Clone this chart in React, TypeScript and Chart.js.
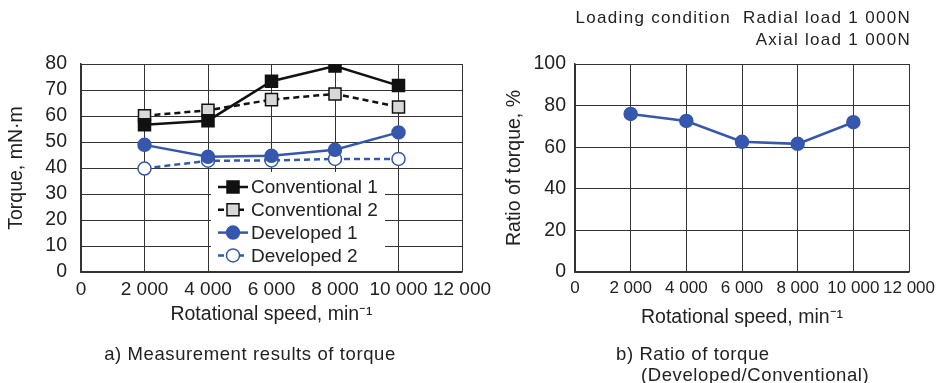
import React, { useEffect, useRef } from 'react';
import { Chart, registerables } from 'chart.js';

Chart.register(...registerables);

// ---- data ----
const speeds = [2000, 4000, 6000, 8000, 10000];
const conventional1 = [56.6, 58.2, 73.4, 79.2, 71.7];
const conventional2 = [60.1, 62.2, 66.3, 68.5, 63.5];
const developed1 = [48.9, 44.3, 44.7, 47.0, 53.7];
const developed2 = [39.8, 42.8, 42.9, 43.5, 43.5];
const torqueRatio = [76.0, 72.6, 62.6, 61.6, 72.0];
const seriesNames = ['Conventional 1', 'Conventional 2', 'Developed 1', 'Developed 2'];
const speedTicks = [0, 2000, 4000, 6000, 8000, 10000, 12000];
const torqueTicks = [0, 10, 20, 30, 40, 50, 60, 70, 80];
const ratioTicks = [0, 20, 40, 60, 80, 100];

const FONT = "'Liberation Sans', Arial, Helvetica, sans-serif";
const TEXT = '#222';
const BLUE = '#3557ae';
const GRID = '#333';

const fmtSpeed = (v: number) =>
  v === 0 ? '0' : `${Math.floor(v / 1000)} ${String(v % 1000).padStart(3, '0')}`;

const pts = (ys: number[]) => speeds.map((x, i) => ({ x, y: ys[i] }));

const insideLegend = {
  id: 'insideLegend',
  afterDatasetsDraw(chart: any, _args: any, opts: any) {
    if (!opts || !opts.display) return;
    const { ctx, chartArea } = chart;
    const left = chartArea.left + opts.offsetX;
    const top = chartArea.top + opts.offsetY;
    const bottom = chartArea.bottom - 1;
    ctx.save();
    ctx.fillStyle = '#fff';
    ctx.fillRect(left, top, opts.width, bottom - top);
    chart.data.datasets.forEach((ds: any, i: number) => {
      const y = top + opts.firstRow + i * opts.rowGap;
      const x0 = left + 7;
      const x1 = x0 + 30;
      const xm = (x0 + x1) / 2;
      ctx.strokeStyle = ds.borderColor;
      ctx.lineWidth = ds.borderWidth;
      ctx.setLineDash(ds.borderDash || []);
      ctx.beginPath();
      ctx.moveTo(x0, y);
      ctx.lineTo(x1, y);
      ctx.stroke();
      ctx.setLineDash([]);
      ctx.fillStyle = ds.pointBackgroundColor;
      ctx.strokeStyle = ds.pointBorderColor;
      ctx.lineWidth = ds.pointBorderWidth;
      ctx.beginPath();
      if (ds.pointStyle === 'rect') {
        const s = Math.SQRT1_2 * ds.pointRadius;
        ctx.rect(xm - s, y - s, 2 * s, 2 * s);
      } else {
        ctx.arc(xm, y, ds.pointRadius, 0, Math.PI * 2);
      }
      ctx.fill();
      ctx.stroke();
      ctx.fillStyle = TEXT;
      ctx.font = `${opts.fontSize}px ${FONT}`;
      ctx.textBaseline = 'middle';
      ctx.textAlign = 'left';
      ctx.fillText(ds.label, x1 + 3, y + 1);
    });
    ctx.restore();
  },
};

function baseScales(p: {
  yMax: number;
  yTicks: number[];
  yTitle: string;
  yWidth: number;
  yTitlePad: number;
  yTickPad: number;
  xTickPad: number;
  xTitlePad: number;
  xTickSize: number;
}) {
  const yTickFont = { family: FONT, size: 19.5 };
  return {
    x: {
      type: 'linear',
      min: 0,
      max: 12000,
      offset: false,
      afterBuildTicks: (s: any) => {
        s.ticks = speedTicks.map((v) => ({ value: v }));
      },
      grid: { color: GRID, lineWidth: 1, drawTicks: false },
      border: { color: GRID, width: 1.5 },
      ticks: {
        padding: p.xTickPad,
        font: { family: FONT, size: p.xTickSize },
        color: TEXT,
        maxRotation: 0,
        autoSkip: false,
        callback: (v: any) => fmtSpeed(Number(v)),
      },
      title: {
        display: true,
        text: 'Rotational speed, min\u207B\u00B9',
        font: { family: FONT, size: 19.5 },
        color: TEXT,
        padding: { top: 0, bottom: p.xTitlePad },
      },
      afterFit: (s: any) => {
        s.height = 60;
      },
    },
    y: {
      type: 'linear',
      min: 0,
      max: p.yMax,
      afterBuildTicks: (s: any) => {
        s.ticks = p.yTicks.map((v) => ({ value: v }));
      },
      grid: { color: GRID, lineWidth: 1, drawTicks: false },
      border: { color: GRID, width: 1.5 },
      ticks: { padding: p.yTickPad, font: yTickFont, color: TEXT, autoSkip: false },
      title: {
        display: true,
        text: p.yTitle,
        font: { family: FONT, size: 19.5 },
        color: TEXT,
        padding: { top: p.yTitlePad, bottom: 0 },
      },
      afterFit: (s: any) => {
        s.width = p.yWidth;
      },
    },
  };
}

function torqueConfig(): any {
  const styles = [
    { color: '#111', dash: [], style: 'rect', radius: 8.5, fill: '#111' },
    { color: '#111', dash: [6, 4], style: 'rect', radius: 8.5, fill: '#d8d8d8' },
    { color: BLUE, dash: [], style: 'circle', radius: 6.5, fill: BLUE },
    { color: BLUE, dash: [6, 4], style: 'circle', radius: 6.5, fill: '#fff' },
  ];
  const values = [conventional1, conventional2, developed1, developed2];
  return {
    type: 'line',
    data: {
      datasets: values.map((vals, i) => ({
        label: seriesNames[i],
        data: pts(vals),
        borderColor: styles[i].color,
        borderWidth: 2.5,
        borderDash: styles[i].dash,
        pointStyle: styles[i].style,
        pointRadius: styles[i].radius,
        pointHoverRadius: styles[i].radius,
        pointBackgroundColor: styles[i].fill,
        pointBorderColor: styles[i].color,
        pointBorderWidth: 1.5,
        tension: 0,
      })),
    },
    options: {
      animation: false,
      responsive: false,
      events: [],
      layout: { padding: { left: 0, top: 64, right: 38, bottom: 51 } },
      plugins: {
        legend: { display: false },
        tooltip: { enabled: false },
        insideLegend: { display: true, offsetX: 130, offsetY: 108, width: 174, firstRow: 15, rowGap: 22.8, fontSize: 19 },
      },
      scales: baseScales({
        yMax: 80,
        yTicks: torqueTicks,
        yTitle: 'Torque, mN\u00B7m',
        yWidth: 81,
        yTitlePad: 5,
        yTickPad: 14,
        xTickPad: 6,
        xTitlePad: 6,
        xTickSize: 19,
      }),
    },
    plugins: [insideLegend],
  };
}

function ratioConfig(): any {
  return {
    type: 'line',
    data: {
      datasets: [
        {
          label: 'Ratio of torque',
          data: pts(torqueRatio),
          borderColor: BLUE,
          borderWidth: 2.5,
          pointStyle: 'circle',
          pointRadius: 6.5,
          pointHoverRadius: 6.5,
          pointBackgroundColor: BLUE,
          pointBorderColor: BLUE,
          pointBorderWidth: 1.5,
          tension: 0,
        },
      ],
    },
    options: {
      animation: false,
      responsive: false,
      events: [],
      layout: { padding: { left: 0, top: 64, right: 28, bottom: 51 } },
      plugins: {
        legend: { display: false },
        tooltip: { enabled: false },
      },
      scales: baseScales({
        yMax: 100,
        yTicks: ratioTicks,
        yTitle: 'Ratio of torque, %',
        yWidth: 95,
        yTitlePad: 23,
        yTickPad: 9,
        xTickPad: 6,
        xTitlePad: 3,
        xTickSize: 17,
      }),
    },
  };
}

function ChartCanvas({ config, left, width }: { config: () => any; left: number; width: number }) {
  const ref = useRef<HTMLCanvasElement | null>(null);
  useEffect(() => {
    if (!ref.current) return;
    const chart = new Chart(ref.current, config());
    return () => chart.destroy();
  }, [config]);
  return (
    <canvas
      ref={ref}
      width={width}
      height={383}
      style={{ position: 'absolute', left, top: 0, width, height: 383 }}
    />
  );
}

const textStyle: React.CSSProperties = {
  position: 'absolute',
  fontFamily: FONT,
  color: TEXT,
  whiteSpace: 'pre',
  lineHeight: '22px',
};

export default function App() {
  return (
    <div style={{ position: 'absolute', left: 0, top: 0, width: 941, height: 383, background: '#fff', overflow: 'hidden' }}>
      <ChartCanvas config={torqueConfig} left={0} width={500} />
      <ChartCanvas config={ratioConfig} left={480} width={461} />
      <div style={{ ...textStyle, right: 30, top: 7, fontSize: 17, letterSpacing: '1.3px', textAlign: 'right' }}>
        {'Loading condition  Radial load 1 000N'}
      </div>
      <div style={{ ...textStyle, right: 30, top: 29, fontSize: 17, letterSpacing: '1.3px', textAlign: 'right' }}>
        {'Axial load 1 000N'}
      </div>
      <div style={{ ...textStyle, left: 0, width: 500, top: 343, fontSize: 18.5, letterSpacing: '0.6px', textAlign: 'center' }}>
        {'a) Measurement results of torque'}
      </div>
      <div style={{ ...textStyle, left: 616, top: 343, fontSize: 18.5, letterSpacing: '0.6px' }}>
        {'b) Ratio of torque'}
      </div>
      <div style={{ ...textStyle, left: 641, top: 364, fontSize: 18.5, letterSpacing: '0.6px' }}>
        {'(Developed/Conventional)'}
      </div>
    </div>
  );
}
